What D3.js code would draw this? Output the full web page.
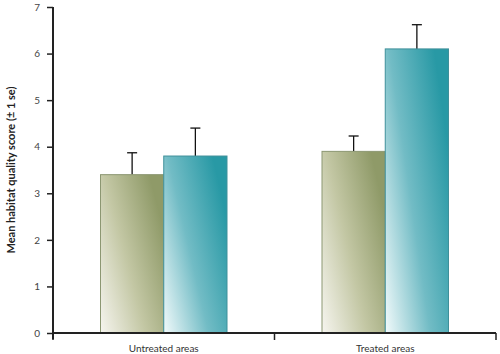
<!DOCTYPE html>
<html>
<head>
<meta charset="utf-8">
<script src="https://cdn.jsdelivr.net/npm/d3@7"></script>
<style>
  body { margin: 0; background: #fff; }
  text { font-family: Lato, "Open Sans", sans-serif; }
</style>
</head>
<body>
<svg id="chart" width="500" height="354"></svg>
<script>
// data
const groups = ["Untreated areas", "Treated areas"];
const series = ["control", "treatment"];
const means = [[3.4, 3.8], [3.9, 6.1]];
const upperSE = [[3.87, 4.4], [4.23, 6.62]];
const yTicks = [0, 1, 2, 3, 4, 5, 6, 7];

const svg = d3.select("#chart");
const LEFT = 53, RIGHT = 496, TOP = 7, BOTTOM = 333;

// gradients, light bottom-left to dark top-right
const defs = svg.append("defs");
const fills = [
  { id: "gGreen", stops: ["#f6f5ef", "#c3c7a4", "#8f9a68"], stroke: "#8c9772" },
  { id: "gTeal",  stops: ["#f2fafb", "#72bcc5", "#2899a5"], stroke: "#3f909a" }
];
for (let f of fills)
{
  let g = defs.append("linearGradient").attr("id", f.id)
      .attr("x1", 0).attr("y1", 1).attr("x2", 1).attr("y2", 0.35);
  g.selectAll("stop").data(f.stops).enter().append("stop")
      .attr("offset", (_d, i) => i / (f.stops.length - 1))
      .attr("stop-color", d => d);
}

let y = d3.scaleLinear().domain([0, 7]).range([BOTTOM, TOP]);
let x0 = d3.scaleBand().domain(groups).range([LEFT, RIGHT]);
let x1 = d3.scaleBand().domain(series).range([47.5, x0.bandwidth() - 47.5]);

// bars
let grp = svg.selectAll("g.grp").data(groups).enter().append("g")
    .attr("class", "grp")
    .attr("transform", d => "translate(" + x0(d) + ",0)");

// error bars first so bars sit over the stems
grp.each(function(_g, gi)
{
  let sel = d3.select(this);
  series.forEach((s, si) =>
  {
    let cx = x1(s) + x1.bandwidth() / 2;
    sel.append("line").attr("x1", cx).attr("x2", cx)
        .attr("y1", y(means[gi][si])).attr("y2", y(upperSE[gi][si]))
        .attr("stroke", "#111").attr("stroke-width", 1.3);
    sel.append("line").attr("x1", cx - 5).attr("x2", cx + 5)
        .attr("y1", y(upperSE[gi][si])).attr("y2", y(upperSE[gi][si]))
        .attr("stroke", "#111").attr("stroke-width", 1.3);
  });
  series.forEach((s, si) =>
  {
    sel.append("rect")
        .attr("x", x1(s)).attr("width", x1.bandwidth())
        .attr("y", y(means[gi][si]))
        .attr("height", y(0) - y(means[gi][si]))
        .attr("fill", "url(#" + fills[si].id + ")")
        .attr("stroke", fills[si].stroke).attr("stroke-width", 1);
  });
});

// y axis
let yAxis = svg.append("g").attr("transform", "translate(" + LEFT + ",0)")
    .call(d3.axisLeft(y).tickValues(yTicks).tickFormat(d3.format("d"))
              .tickSize(6).tickPadding(7));
yAxis.select(".domain").attr("stroke", "#222").attr("stroke-width", 2)
    .attr("d", "M0," + TOP + "V" + (BOTTOM + 6));
yAxis.selectAll(".tick line").attr("stroke", "#222").attr("stroke-width", 1.5);
yAxis.selectAll(".tick text").attr("fill", "#444").attr("font-size", 10);

// x axis
let xAxis = svg.append("g").attr("transform", "translate(0," + BOTTOM + ")")
    .call(d3.axisBottom(x0).tickSize(0).tickPadding(12));
xAxis.select(".domain").attr("stroke", "#222").attr("stroke-width", 2)
    .attr("d", "M" + LEFT + ",0H" + RIGHT);
xAxis.selectAll(".tick text").attr("fill", "#333").attr("font-size", 10);
let edges = groups.map(g => x0(g)).concat([RIGHT]);
xAxis.selectAll("line.edge").data(edges).enter().append("line")
    .attr("class", "edge").attr("x1", d => d).attr("x2", d => d)
    .attr("y1", 0).attr("y2", 7)
    .attr("stroke", "#222").attr("stroke-width", 1.5);

// y label
svg.append("text")
    .attr("transform", "translate(15," + (TOP + BOTTOM) / 2 + ") rotate(-90)")
    .attr("text-anchor", "middle")
    .attr("font-size", 11).attr("font-weight", "bold").attr("fill", "#222")
    .text("Mean habitat quality score (\u00b1 1 se)");
</script>
</body>
</html>
